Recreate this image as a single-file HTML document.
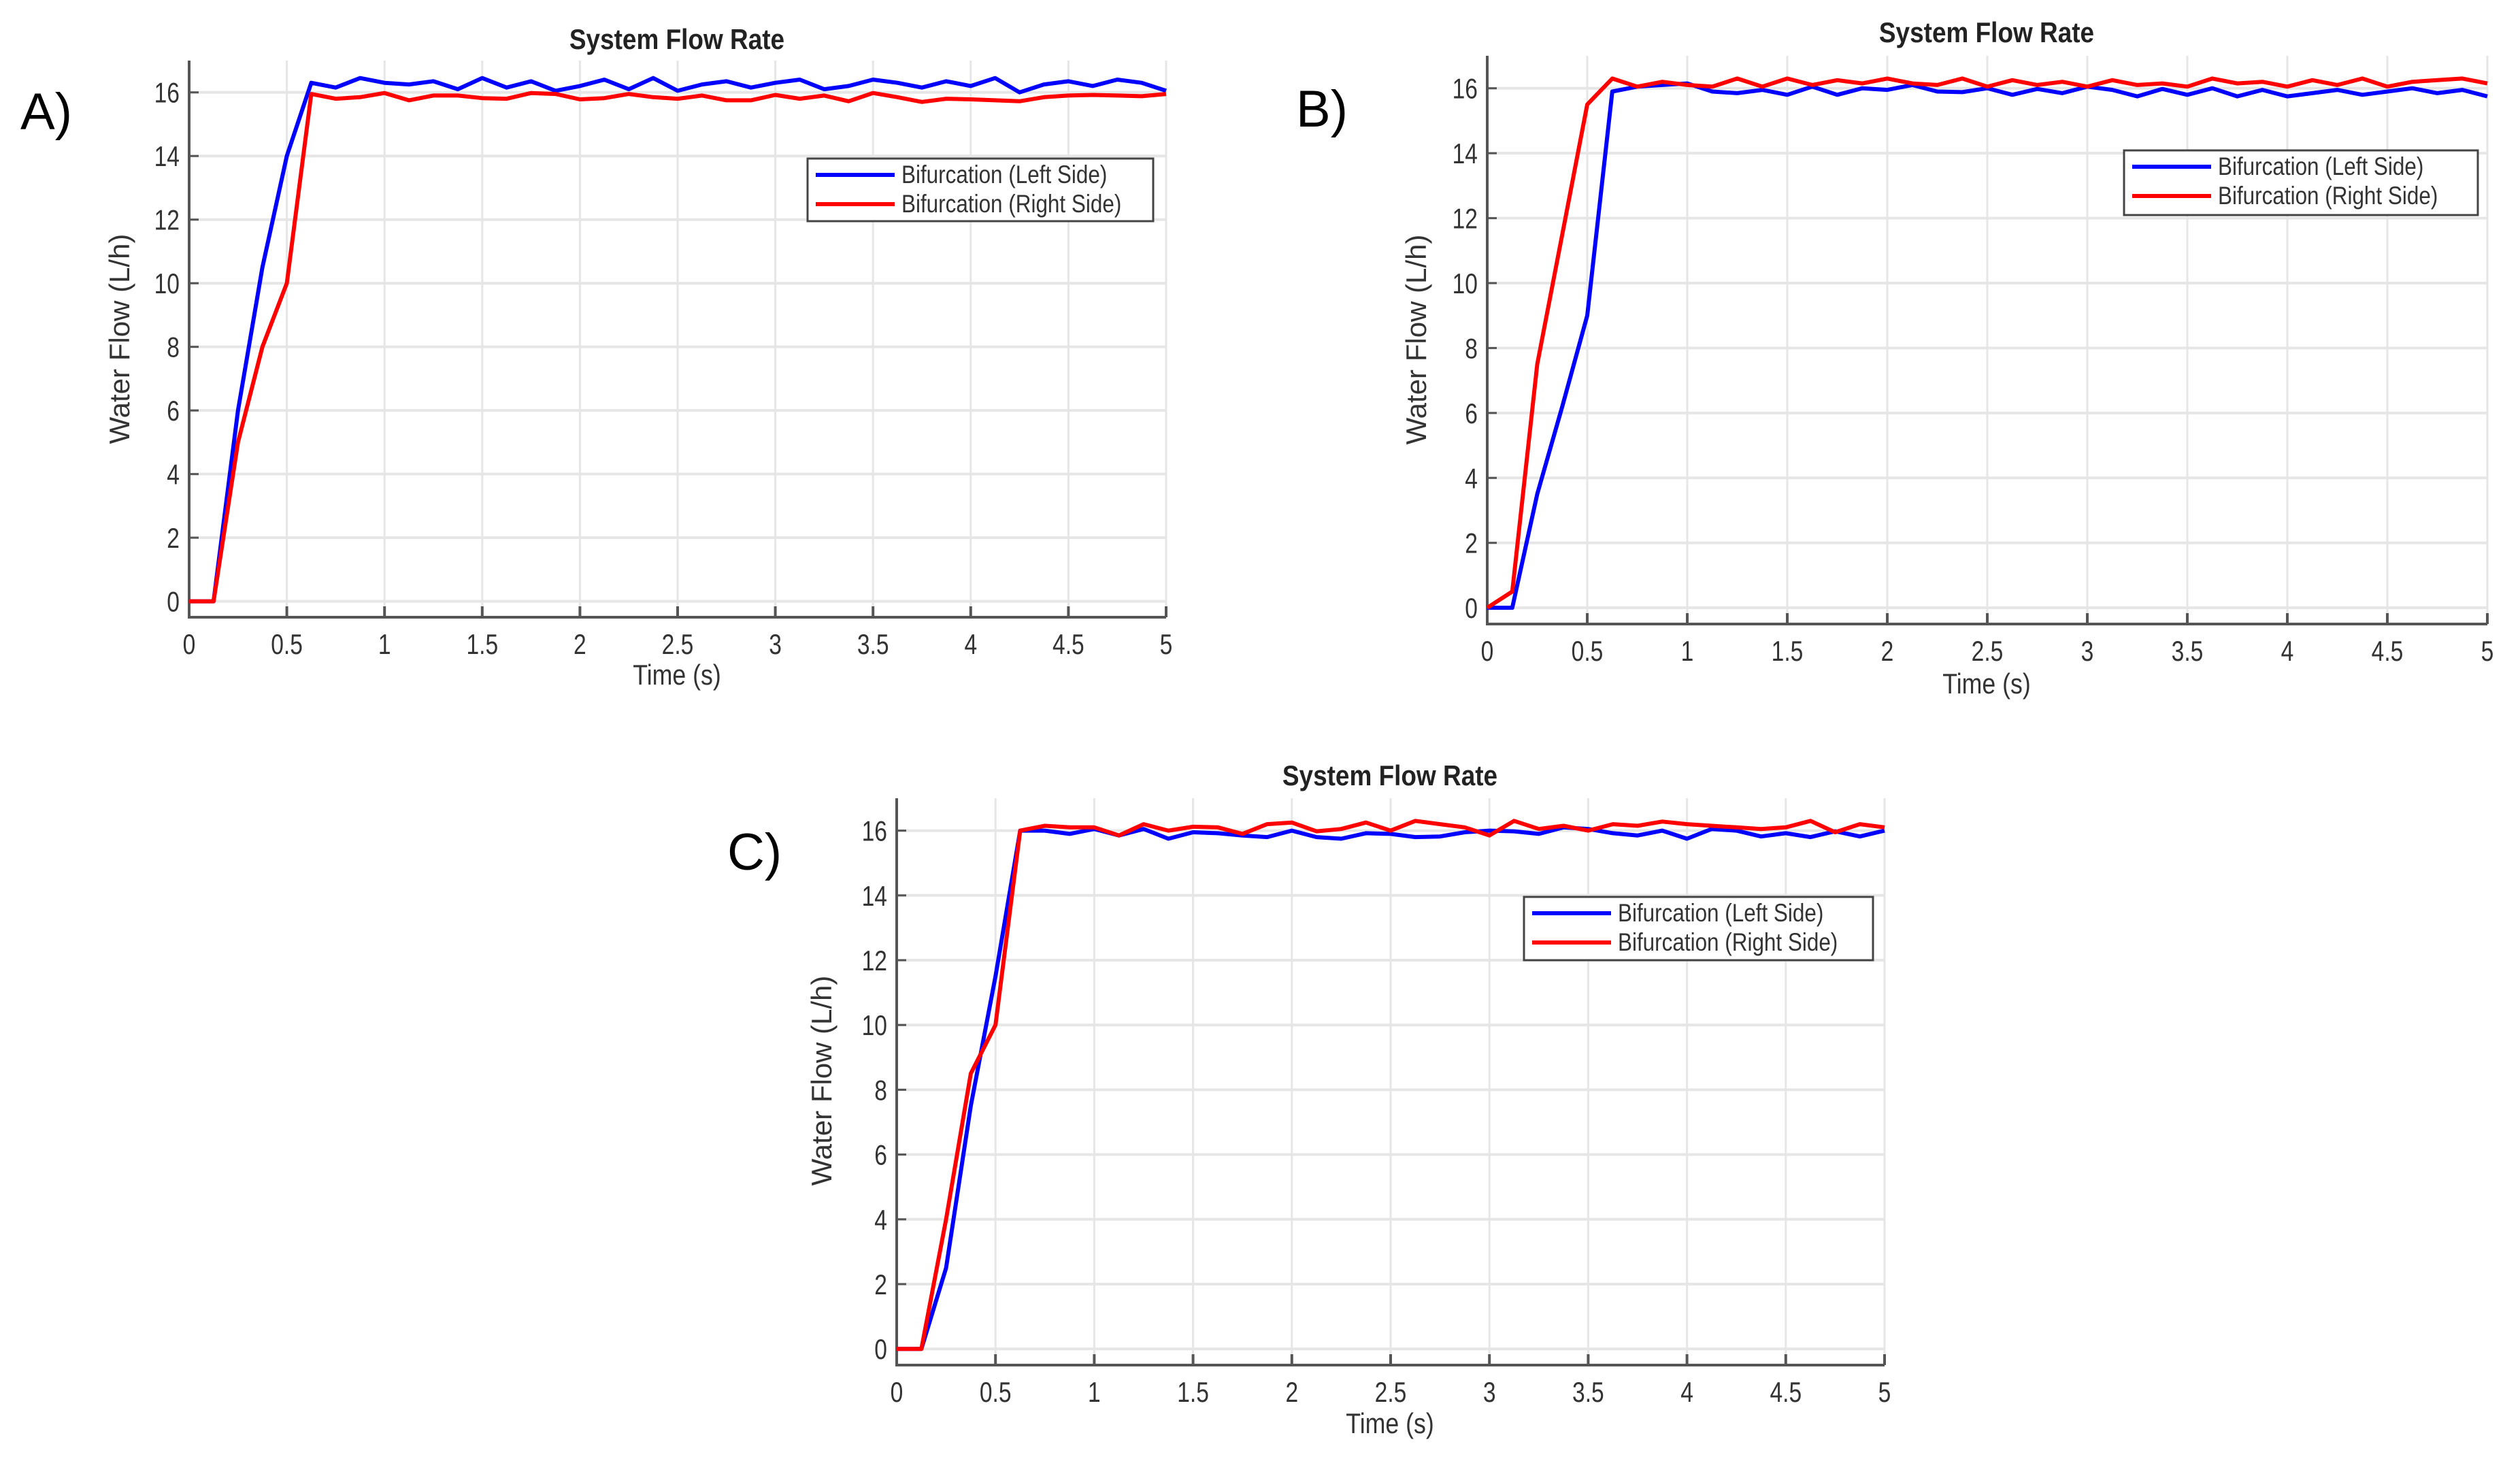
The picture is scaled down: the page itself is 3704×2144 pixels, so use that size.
<!DOCTYPE html>
<html><head><meta charset="utf-8"><style>
html,body{margin:0;padding:0;background:#fff;}
svg{display:block;}
text{font-family:"Liberation Sans",sans-serif;}
</style></head><body>
<svg id="fig" width="3704" height="2144" viewBox="0 0 3704 2144" xmlns="http://www.w3.org/2000/svg"></svg>
<script>
const times=[0,0.125,0.25,0.375,0.5,0.625,0.75,0.875,1,1.125,1.25,1.375,1.5,1.625,1.75,1.875,2,2.125,2.25,2.375,2.5,2.625,2.75,2.875,3,3.125,3.25,3.375,3.5,3.625,3.75,3.875,4,4.125,4.25,4.375,4.5,4.625,4.75,4.875,5];
const xTicks=[0,0.5,1,1.5,2,2.5,3,3.5,4,4.5,5];
const xTickLabels=["0","0.5","1","1.5","2","2.5","3","3.5","4","4.5","5"];
const yTicks=[0,2,4,6,8,10,12,14,16];
const yTickLabels=["0","2","4","6","8","10","12","14","16"];
const aLeft=[0,0,6,10.5,14,16.3,16.15,16.45,16.3,16.25,16.35,16.1,16.45,16.15,16.35,16.05,16.2,16.4,16.1,16.45,16.05,16.25,16.35,16.15,16.3,16.4,16.1,16.2,16.4,16.3,16.15,16.35,16.2,16.45,16.0,16.25,16.35,16.2,16.4,16.3,16.05];
const aRight=[0,0,5,8,10,15.95,15.8,15.85,15.98,15.75,15.9,15.9,15.82,15.8,15.98,15.95,15.78,15.82,15.95,15.85,15.8,15.9,15.75,15.75,15.92,15.8,15.9,15.72,15.98,15.85,15.7,15.8,15.78,15.75,15.72,15.85,15.9,15.92,15.9,15.88,15.95];
const bLeft=[0,0,3.5,6.2,9,15.9,16.05,16.1,16.15,15.9,15.85,15.95,15.8,16.05,15.8,16.0,15.95,16.1,15.9,15.88,16.0,15.8,15.98,15.85,16.05,15.95,15.75,15.98,15.8,16.0,15.75,15.95,15.75,15.85,15.95,15.8,15.9,16.0,15.85,15.95,15.75];
const bRight=[0,0.5,7.5,11.5,15.5,16.3,16.05,16.2,16.1,16.05,16.3,16.05,16.3,16.1,16.25,16.15,16.3,16.15,16.1,16.3,16.05,16.25,16.1,16.2,16.05,16.25,16.1,16.15,16.05,16.3,16.15,16.2,16.05,16.25,16.1,16.3,16.05,16.2,16.25,16.3,16.15];
const cLeft=[0,0,2.5,7.5,11.5,16,16.0,15.9,16.05,15.85,16.05,15.75,15.95,15.92,15.85,15.8,16.0,15.8,15.75,15.92,15.9,15.8,15.82,15.95,16.0,15.98,15.9,16.1,16.05,15.92,15.85,16.0,15.75,16.05,16.0,15.82,15.92,15.8,15.98,15.82,16.0];
const cRight=[0,0,4,8.5,10,16,16.15,16.1,16.1,15.85,16.2,16.0,16.12,16.1,15.9,16.2,16.25,15.98,16.05,16.25,16.0,16.3,16.2,16.1,15.85,16.3,16.05,16.15,16.0,16.2,16.15,16.28,16.2,16.15,16.1,16.05,16.1,16.3,15.95,16.2,16.1];
const seriesNames=["Bifurcation (Left Side)","Bifurcation (Right Side)"];

const NS="http://www.w3.org/2000/svg";
const fig=document.getElementById('fig');
function mk(tag,attrs,parent,txt){const e=document.createElementNS(NS,tag);for(const k in attrs)e.setAttribute(k,attrs[k]);if(txt!==undefined)e.textContent=txt;parent.appendChild(e);return e;}

const panels=[
 {id:'a',x0:278,x1:1714,top:89,bot:907,letter:'A)',lx:30,ly:190,left:aLeft,right:aRight,leg:[1187,233,508,92],ylx:176,yly:498,tx:995,ty:72,xlx:995,xly:1006},
 {id:'b',x0:2186,x1:3656,top:82,bot:917,letter:'B)',lx:1905,ly:186,left:bLeft,right:bRight,leg:[3122,221,520,95],ylx:2082,yly:499,tx:2920,ty:62,xlx:2920,xly:1019},
 {id:'c',x0:1318,x1:2770,top:1173,bot:2006,letter:'C)',lx:1069,ly:1278,left:cLeft,right:cRight,leg:[2240,1318,513,93],ylx:1208,yly:1588,tx:2043,ty:1154,xlx:2043,xly:2106}
];
const yMin=-0.5,yMax=17;
panels.forEach(p=>{
 const g=mk('g',{},fig);
 
 
 const sx=t=>p.x0+(t-0)/5*(p.x1-p.x0);
 const sy=v=>p.bot-(v-yMin)/(yMax-yMin)*(p.bot-p.top);
 xTicks.forEach(t=>{const l=mk('line',{x1:sx(t),x2:sx(t),y1:p.top,y2:p.bot,stroke:'#e6e6e6','stroke-width':3},g);
  });
 yTicks.forEach(v=>{const l=mk('line',{x1:p.x0,x2:p.x1,y1:sy(v),y2:sy(v),stroke:'#e6e6e6','stroke-width':4},g);
  });
 const ax=mk('path',{d:`M${p.x0},${p.top} L${p.x0},${p.bot} L${p.x1},${p.bot}`,fill:'none',stroke:'#555','stroke-width':4},g);
 
 xTicks.forEach((t,i)=>{mk('line',{x1:sx(t),x2:sx(t),y1:p.bot,y2:p.bot-16,stroke:'#555','stroke-width':4},g);
  const tl=mk('text',{x:sx(t),y:p.bot+54,'font-size':42,'text-anchor':'middle',fill:'#333',transform:`translate(${sx(t)},0) scale(0.8,1) translate(${-sx(t)},0)`},g,xTickLabels[i]);
  });
 yTicks.forEach((v,i)=>{mk('line',{x1:p.x0,x2:p.x0+14,y1:sy(v),y2:sy(v),stroke:'#555','stroke-width':3},g);
  const xx=p.x0-14;
  const tl=mk('text',{x:xx,y:sy(v)+15,'font-size':42,'text-anchor':'end',fill:'#333',transform:`translate(${xx},0) scale(0.8,1) translate(${-xx},0)`},g,yTickLabels[i]);
  });
 [[p.left,'#0000ff','left-side-line'],[p.right,'#ff0000','right-side-line']].forEach(([arr,col,nm])=>{
  const d=arr.map((v,i)=>(i?'L':'M')+sx(times[i]).toFixed(1)+','+sy(v).toFixed(1)).join(' ');
  const pl=mk('path',{d:d,fill:'none',stroke:col,'stroke-width':6,'stroke-linejoin':'round'},g);
  });
 const tt=mk('text',{x:p.tx,y:p.ty,'font-size':42,'font-weight':'bold','text-anchor':'middle',fill:'#222',transform:`translate(${p.tx},0) scale(0.88,1) translate(${-p.tx},0)`},g,'System Flow Rate');
 
 const xl=mk('text',{x:p.xlx,y:p.xly,'font-size':42,'text-anchor':'middle',fill:'#333',transform:`translate(${p.xlx},0) scale(0.85,1) translate(${-p.xlx},0)`},g,'Time (s)');
 
 const yl=mk('text',{x:0,y:0,'font-size':42,'text-anchor':'middle',fill:'#333',transform:`translate(${p.ylx+14},${p.yly}) rotate(-90)`},g,'Water Flow (L/h)');
 
 const pl=mk('text',{x:p.lx,y:p.ly,'font-size':76,'font-family':'Liberation Serif,serif',fill:'#000'},g,p.letter);
 
 const [lx,ly,lw,lh]=p.leg;
 const lg=mk('g',{},g);
 
 mk('rect',{x:lx,y:ly,width:lw,height:lh,fill:'#fff',stroke:'#444','stroke-width':3},lg);
 [['#0000ff',seriesNames[0]],['#ff0000',seriesNames[1]]].forEach(([col,name],k)=>{
  const yy=ly+24+k*43;
  const e=mk('g',{},lg);
  
  mk('line',{x1:lx+12,x2:lx+128,y1:yy,y2:yy,stroke:col,'stroke-width':6},e);
  const tx=lx+138;
  mk('text',{x:tx,y:yy+12,'font-size':37,fill:'#333',transform:`translate(${tx},0) scale(0.85,1) translate(${-tx},0)`},e,name);
 });
});
</script>
</body></html>
